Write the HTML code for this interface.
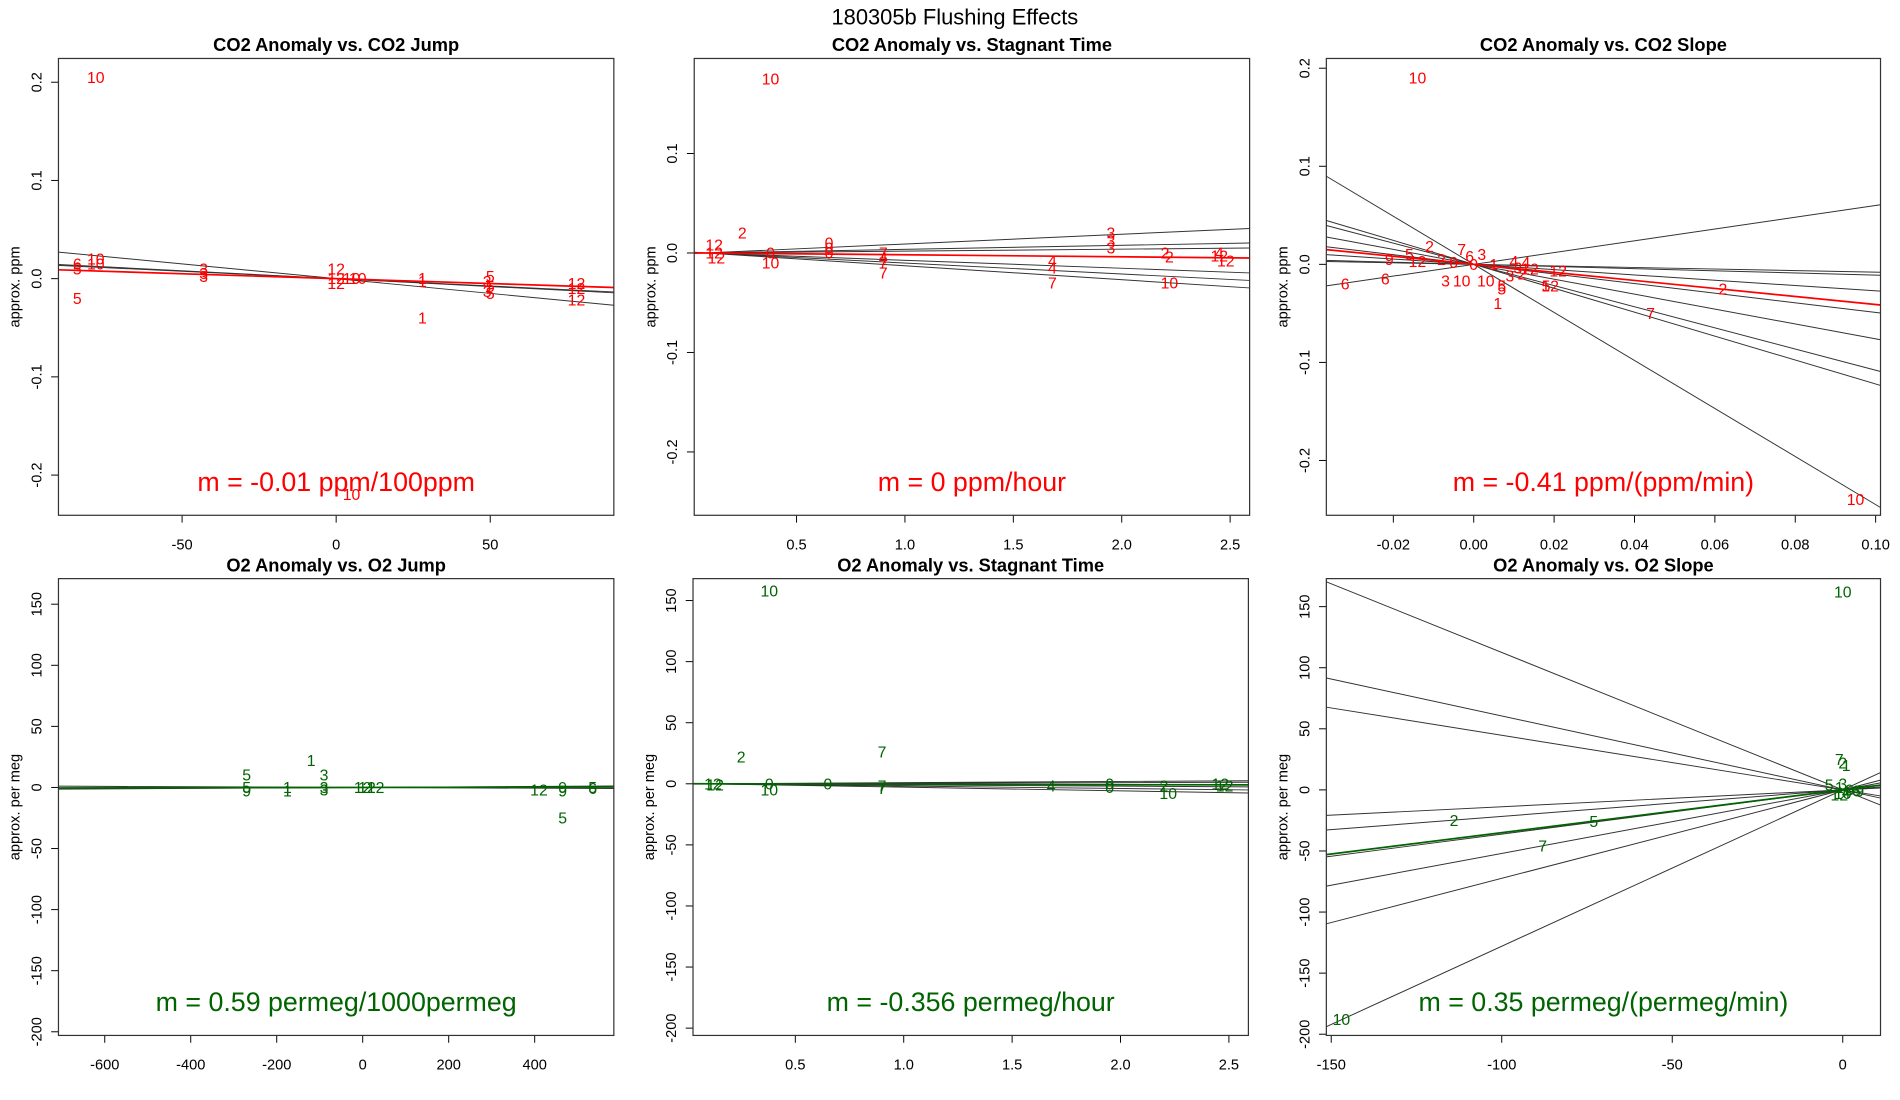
<!DOCTYPE html>
<html><head><meta charset="utf-8"><style>
html,body{margin:0;padding:0;background:#fff;}
svg{display:block;font-family:"Liberation Sans",sans-serif;}
</style></head><body>
<svg id="fig" width="1900" height="1100" viewBox="0 0 1560 903" preserveAspectRatio="none" xmlns="http://www.w3.org/2000/svg">
<text x="784" y="20" font-size="18" text-anchor="middle">180305b   Flushing Effects</text>
</svg>
<script>
// ---- Panel 1: CO2 Anomaly vs CO2 Jump ----
const p1Labels = ["10","10","10","6","5","5","3","3","3","12","12","12","10","10","1","1","1","5","3","5","5","3","12","12","12","10"];
const p1X = [-78,-78,-78,-84,-84,-84,-43,-43,-43,0,0,0,5,7,28,28,28,50,49,50,50,49,78,78,78,5];
const p1Y = [0.205,0.02,0.015,0.015,0.01,-0.02,0.01,0.005,0.002,0.01,0.0,-0.005,0.0,0.0,0.0,-0.003,-0.04,0.002,-0.003,-0.008,-0.015,-0.013,-0.005,-0.01,-0.022,-0.22];
const p1Slopes = [-0.0003,-0.00016,-0.00015];
const p1FitSlope = -0.0001;
const p1XTicks = [-50,0,50];
const p1YTicks = [-0.2,-0.1,0.0,0.1,0.2];
const p1YTickLabels = ["-0.2","-0.1","0.0","0.1","0.2"];

// ---- Panel 2: CO2 Anomaly vs Stagnant Time ----
const p2Labels = ["10","2","12","12","12","0","10","0","0","0","7","7","4","7","4","4","7","3","3","3","2","2","10","12","12","4"];
const p2X = [0.38,0.25,0.12,0.12,0.13,0.38,0.38,0.65,0.65,0.65,0.9,0.9,0.9,0.9,1.68,1.68,1.68,1.95,1.95,1.95,2.2,2.22,2.22,2.45,2.48,2.45];
const p2Y = [0.175,0.02,0.008,0.0,-0.005,0.0,-0.01,0.01,0.005,0.0,0.0,-0.01,-0.005,-0.02,-0.008,-0.015,-0.03,0.02,0.012,0.005,0.0,-0.004,-0.03,-0.003,-0.008,0.0];
const p2Slopes = [0.0098,0.004,0.002,-0.008,-0.011,-0.014];
const p2FitSlope = -0.002;
const p2XTicks = [0.5,1.0,1.5,2.0,2.5];
const p2XTickLabels = ["0.5","1.0","1.5","2.0","2.5"];
const p2YTicks = [-0.2,-0.1,0.0,0.1];
const p2YTickLabels = ["-0.2","-0.1","0.0","0.1"];

// ---- Panel 3: CO2 Anomaly vs CO2 Slope ----
const p3Labels = ["10","10","2","5","9","6","6","7","3","1","5","2","12","2","7","3","10","10","5","1","12","3","2","4","12","5","12","0","0","3","6","4"];
const p3X = [-0.014,0.095,-0.011,-0.016,-0.021,-0.032,-0.022,-0.003,0.002,0.005,0.007,0.012,-0.014,-0.008,0.044,-0.007,-0.003,0.003,0.007,0.006,0.021,0.009,0.062,0.013,0.019,0.018,0.014,-0.005,0.0,0.011,-0.001,0.01];
const p3Y = [0.19,-0.24,0.018,0.01,0.005,-0.02,-0.015,0.015,0.01,0.0,-0.022,-0.01,0.003,0.005,-0.05,-0.017,-0.017,-0.017,-0.025,-0.04,-0.007,-0.012,-0.025,0.002,-0.022,-0.022,-0.005,0.002,0.0,-0.004,0.008,0.003];
const p3Slopes = [-2.45,-1.22,-1.08,-0.76,-0.49,-0.27,-0.11,-0.08,0.6];
const p3FitSlope = -0.41;
const p3XTicks = [-0.02,0.0,0.02,0.04,0.06,0.08,0.10];
const p3XTickLabels = ["-0.02","0.00","0.02","0.04","0.06","0.08","0.10"];
const p3YTicks = [-0.2,-0.1,0.0,0.1,0.2];
const p3YTickLabels = ["-0.2","-0.1","0.0","0.1","0.2"];

// ---- Panel 4: O2 Anomaly vs O2 Jump ----
const p4Labels = ["5","5","9","1","1","1","3","3","3","12","12","12","12","9","9","5","5","6"];
const p4X = [-270,-270,-270,-120,-175,-175,-90,-90,-90,0,10,30,410,465,465,465,535,535];
const p4Y = [10,0,-3,22,0,-3,10,0,-2,0,0,0,-2,0,-3,-25,0,-1];
const p4Slopes = [0.002,-0.0015,0.001];
const p4FitSlope = 0.00059;
const p4XTicks = [-600,-400,-200,0,200,400];
const p4YTicks = [-200,-150,-100,-50,0,50,100,150];

// ---- Panel 5: O2 Anomaly vs Stagnant Time ----
const p5Labels = ["10","2","7","12","12","0","10","0","7","7","4","0","0","2","10","12","12"];
const p5X = [0.38,0.25,0.9,0.12,0.13,0.38,0.38,0.65,0.9,0.9,1.68,1.95,1.95,2.2,2.22,2.48,2.46];
const p5Y = [158,22,26,0,-1,0,-5,0,-2,-4,-2,0,-3,-2,-8,-2,0];
const p5Slopes = [-3,-2,-1,0.5,1];
const p5FitSlope = -0.356;
const p5XTicks = [0.5,1.0,1.5,2.0,2.5];
const p5XTickLabels = ["0.5","1.0","1.5","2.0","2.5"];
const p5YTicks = [-200,-150,-100,-50,0,50,100,150];

// ---- Panel 6: O2 Anomaly vs O2 Slope ----
const p6Labels = ["10","7","2","1","5","3","1","0","6","12","10","4","9","2","5","7","10"];
const p6X = [0,-1,0,1,-4,0,-1,2,4,-1,0,1,5,-114,-73,-88,-147];
const p6Y = [162,25,22,20,4,5,2,0,-1,-4,-3,-2,-1,-25,-26,-46,-188];
const p6Slopes = [-1.125,-0.605,-0.447,0.138,0.217,0.362,0.52,0.724,1.28];
const p6FitSlope = 0.35;
const p6XTicks = [-150,-100,-50,0];
const p6YTicks = [-200,-150,-100,-50,0,50,100,150];

const NS = "http://www.w3.org/2000/svg";
const svg = document.getElementById("fig");
function mk(tag, attrs, parent){
  const e = document.createElementNS(NS, tag);
  for (const k in attrs) e.setAttribute(k, attrs[k]);
  (parent||svg).appendChild(e);
  return e;
}

function panel(cfg){
  const g = mk("g", {});
  
  
  const L=cfg.box[0], T=cfg.box[1], R=cfg.box[2], B=cfg.box[3];
  const sx = v => cfg.xpx[0] + (v - cfg.xv[0]) * (cfg.xpx[1]-cfg.xpx[0])/(cfg.xv[1]-cfg.xv[0]);
  const sy = v => cfg.ypx[0] + (v - cfg.yv[0]) * (cfg.ypx[1]-cfg.ypx[0])/(cfg.yv[1]-cfg.yv[0]);
  const ix = px => cfg.xv[0] + (px - cfg.xpx[0]) * (cfg.xv[1]-cfg.xv[0])/(cfg.xpx[1]-cfg.xpx[0]);
  const cp = mk("clipPath", {id: cfg.id+"clip"}, g);
  mk("rect", {x:L, y:T, width:R-L, height:B-T}, cp);
  const t = mk("text", {x:(L+R)/2, y:T-6, "font-size":15, "font-weight":"bold", "text-anchor":"middle"}, g);
  
  
  t.textContent = cfg.title;
  const yl = mk("text", {x:0, y:0, "font-size":12, "text-anchor":"middle", transform:`translate(${L-32},${(T+B)/2}) rotate(-90)`}, g);
  
  
  yl.textContent = cfg.ylab;
  cfg.xticks.forEach((v,i)=>{
    const x = sx(v);
    const tk = mk("line", {x1:x, x2:x, y1:B, y2:B+6, stroke:"#000", "stroke-width":0.8}, g);
    
    
    const tl = mk("text", {x:x, y:B+28, "font-size":12, "text-anchor":"middle"}, g);
    
    
    tl.textContent = cfg.xtickLabels ? cfg.xtickLabels[i] : String(v);
  });
  cfg.yticks.forEach((v,i)=>{
    const y = sy(v);
    const tk = mk("line", {x1:L-6, x2:L, y1:y, y2:y, stroke:"#000", "stroke-width":0.8}, g);
    
    
    const tl = mk("text", {x:0, y:0, "font-size":12, "text-anchor":"middle", transform:`translate(${L-14},${y}) rotate(-90)`}, g);
    
    
    tl.textContent = cfg.ytickLabels ? cfg.ytickLabels[i] : String(v);
  });
  const inner = mk("g", {"clip-path":`url(#${cfg.id}clip)`}, g);
  const xa = ix(L), xb = ix(R);
  cfg.slopes.forEach(s=>{
    const ln = mk("line", {x1:L, y1:sy(cfg.x0y + s*(xa-cfg.x0)), x2:R, y2:sy(cfg.x0y + s*(xb-cfg.x0)), stroke:"#333", "stroke-width":0.8}, inner);
    
    
  });
  const fl = mk("line", {x1:L, y1:sy(cfg.x0y + cfg.fit*(xa-cfg.x0)), x2:R, y2:sy(cfg.x0y + cfg.fit*(xb-cfg.x0)), stroke:cfg.color, "stroke-width":1.4}, inner);
  
  
  cfg.labels.forEach((lab,i)=>{
    const pt = mk("text", {x:sx(cfg.xs[i]), y:sy(cfg.ys[i])+4.5, "font-size":13, "text-anchor":"middle", fill:cfg.color}, inner);
    
    
    pt.textContent = lab;
  });
  const st = mk("text", {x:(L+R)/2, y:B-20, "font-size":22, "text-anchor":"middle", fill:cfg.color}, g);
  
  
  st.textContent = cfg.slopeText;
  const bx = mk("rect", {x:L, y:T, width:R-L, height:B-T, fill:"none", stroke:"#333", "stroke-width":1}, g);
  
  
}

const RED="#ff0000", GREEN="#006400";
panel({id:"p1",name:"panel-co2-vs-jump",title:"CO2 Anomaly vs. CO2 Jump",ylab:"approx. ppm",color:RED,box:[48,48,504,423],
  xv:[-50,50],xpx:[149.5,402.5],yv:[0.2,-0.2],ypx:[67.5,390],x0:0,x0y:0,
  xticks:p1XTicks,yticks:p1YTicks,ytickLabels:p1YTickLabels,slopes:p1Slopes,fit:p1FitSlope,
  labels:p1Labels,xs:p1X,ys:p1Y,slopeText:"m = -0.01 ppm/100ppm"});
panel({id:"p2",name:"panel-co2-vs-stagnant",title:"CO2 Anomaly vs. Stagnant Time",ylab:"approx. ppm",color:RED,box:[570,48,1026,423],
  xv:[0.5,2.5],xpx:[654,1010],yv:[0.1,-0.2],ypx:[126,371],x0:0.08,x0y:0,
  xticks:p2XTicks,xtickLabels:p2XTickLabels,yticks:p2YTicks,ytickLabels:p2YTickLabels,slopes:p2Slopes,fit:p2FitSlope,
  labels:p2Labels,xs:p2X,ys:p2Y,slopeText:"m = 0 ppm/hour"});
panel({id:"p3",name:"panel-co2-vs-slope",title:"CO2 Anomaly vs. CO2 Slope",ylab:"approx. ppm",color:RED,box:[1089,48,1544,423],
  xv:[-0.02,0.10],xpx:[1144,1540],yv:[0.2,-0.2],ypx:[56,378],x0:0,x0y:0,
  xticks:p3XTicks,xtickLabels:p3XTickLabels,yticks:p3YTicks,ytickLabels:p3YTickLabels,slopes:p3Slopes,fit:p3FitSlope,
  labels:p3Labels,xs:p3X,ys:p3Y,slopeText:"m = -0.41 ppm/(ppm/min)"});
panel({id:"p4",name:"panel-o2-vs-jump",title:"O2 Anomaly vs. O2 Jump",ylab:"approx. per meg",color:GREEN,box:[48,475,504,850],
  xv:[-600,400],xpx:[86,439],yv:[150,-200],ypx:[496,847],x0:0,x0y:0,
  xticks:p4XTicks,yticks:p4YTicks,slopes:p4Slopes,fit:p4FitSlope,
  labels:p4Labels,xs:p4X,ys:p4Y,slopeText:"m = 0.59 permeg/1000permeg"});
panel({id:"p5",name:"panel-o2-vs-stagnant",title:"O2 Anomaly vs. Stagnant Time",ylab:"approx. per meg",color:GREEN,box:[569,475,1025,850],
  xv:[0.5,2.5],xpx:[653,1009],yv:[150,-200],ypx:[493,844],x0:0.08,x0y:0,
  xticks:p5XTicks,xtickLabels:p5XTickLabels,yticks:p5YTicks,slopes:p5Slopes,fit:p5FitSlope,
  labels:p5Labels,xs:p5X,ys:p5Y,slopeText:"m = -0.356 permeg/hour"});
panel({id:"p6",name:"panel-o2-vs-slope",title:"O2 Anomaly vs. O2 Slope",ylab:"approx. per meg",color:GREEN,box:[1089,475,1544,850],
  xv:[-150,0],xpx:[1093,1513],yv:[150,-200],ypx:[498,849],x0:0,x0y:0,
  xticks:p6XTicks,yticks:p6YTicks,slopes:p6Slopes,fit:p6FitSlope,
  labels:p6Labels,xs:p6X,ys:p6Y,slopeText:"m = 0.35 permeg/(permeg/min)"});
</script>
</body></html>
